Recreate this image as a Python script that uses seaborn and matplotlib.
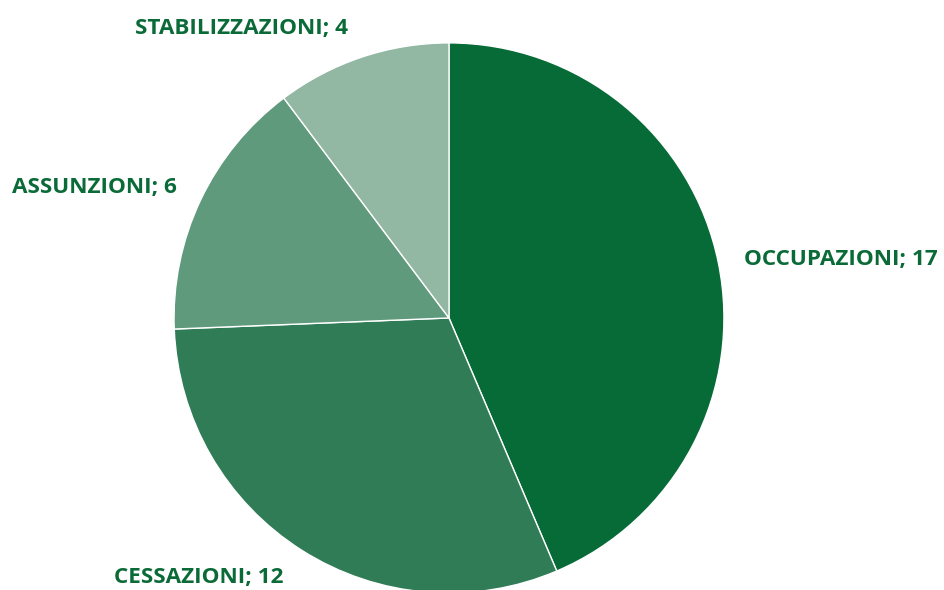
import matplotlib
matplotlib.use("Agg")
import matplotlib.pyplot as plt
import seaborn as sns

categories = ["OCCUPAZIONI", "CESSAZIONI", "ASSUNZIONI", "STABILIZZAZIONI"]
values = [17, 12, 6, 4]
colors = ["#066b37", "#2f7c56", "#5f9a7c", "#92b7a3"]

sns.set_theme(style="white")
plt.rcParams["font.family"] = ["Open Sans", "DejaVu Sans"]

fig = plt.figure(figsize=(9.45, 5.9), dpi=100)
ax = fig.add_axes([0, 0, 1, 1])
palette = sns.color_palette(colors)
wedges, _ = ax.pie(values, colors=palette, startangle=90, counterclock=False,
                   radius=1.0, center=(0, 0),
                   wedgeprops=dict(edgecolor="white", linewidth=1.0))
ax.set_xlim(-1.633, 1.804)
ax.set_ylim(-0.989, 1.156)
ax.set_aspect("auto")
ax.axis("off")

label_pos = [(1.425, 0.193), (-0.909, -0.964), (-1.291, 0.455), (-0.755, 1.033)]
for cat, val, (x, y) in zip(categories, values, label_pos):
    ax.text(x, y, f"{cat}; {val}", ha="center", va="baseline",
            fontsize=16.2, fontweight="bold", color="#0b6b38")

fig.savefig("out.png", dpi=100)
